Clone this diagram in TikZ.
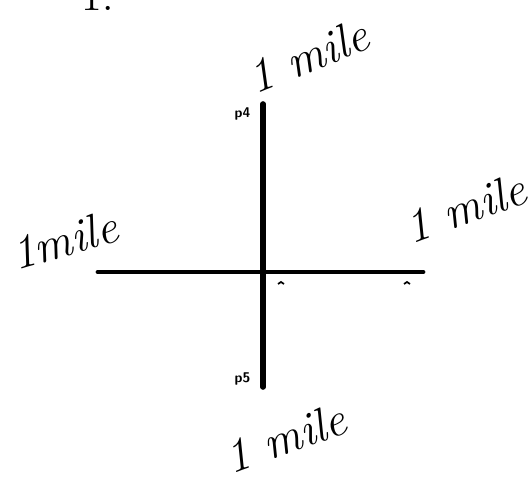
\documentclass[tikz,border=0pt]{standalone}
\usepackage{tikz}
\usetikzlibrary{positioning}
\usepackage{xcolor}

\tikzset{
  road/.style={line width=1.6pt,line cap=round},
  mile/.style={font=\fontsize{13.5}{13.5}\selectfont\itshape},
  pt/.style={font=\fontsize{4}{4}\selectfont\sffamily\bfseries,inner sep=0pt}
}

\begin{document}
\begin{tikzpicture}
  \useasboundingbox (0,0) rectangle (5.31,4.76);
  % the two roads
  \coordinate (c) at (2.63,2.04);
  \coordinate (top) at (2.63,3.72);
  \coordinate (bot) at (2.63,0.89);
  \coordinate (lft) at (0.98,2.04);
  \coordinate (rgt) at (4.23,2.04);
  \draw[road] (top) -- (bot);
  \draw[road,line width=1.4pt] (lft) -- (rgt);
  % point labels
  \node[pt,left=0.12 of top,yshift=-0.1cm] (p4) {p4};
  \node[pt,left=0.12 of bot,yshift=0.08cm] (p5) {p5};
  % small marks under the road
  \draw[line width=0.5pt] (2.78,1.92) -- (2.81,1.94) -- (2.84,1.92);
  \draw[line width=0.5pt] (4.04,1.92) -- (4.07,1.94) -- (4.10,1.92);
  % distances
  \node[mile,rotate=22] (mt) at (3.08,4.2) {1 mile};
  \node[mile,rotate=16] (ml) at (0.64,2.36) {1mile};
  \node[mile,rotate=20] (mr) at (4.65,2.68) {1 mile};
  \node[mile,rotate=20] (mb) at (2.85,0.38) {1 mile};
  \node[font=\large] (fig) at (0.98,4.80) {1.};
\end{tikzpicture}
\end{document}
